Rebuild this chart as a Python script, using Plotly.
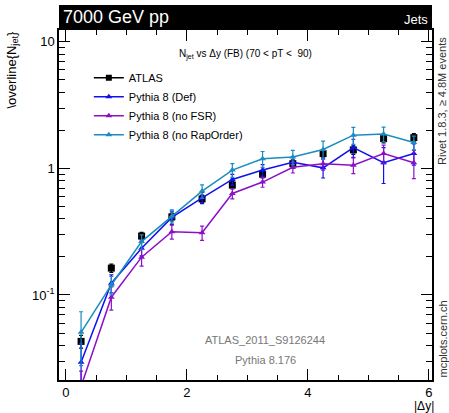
import plotly.graph_objects as go
import math

x = [0.25, 0.75, 1.25, 1.75, 2.25, 2.75, 3.25, 3.75, 4.25, 4.75, 5.25, 5.75]

atlas = [0.043, 0.163, 0.292, 0.414, 0.574, 0.738, 0.90, 1.09, 1.31, 1.40, 1.72, 1.75]
atlas_err = [0.005, 0.012, 0.02, 0.03, 0.04, 0.05, 0.06, 0.08, 0.10, 0.11, 0.13, 0.13]

py_def = [0.0294, 0.124, 0.234, 0.41, 0.586, 0.818, 0.97, 1.12, 1.01, 1.46, 1.11, 1.31]
py_def_err = [0.012, 0.02, 0.03, 0.05, 0.06, 0.08, 0.1, 0.12, 0.17, 0.24, 0.35, 0.25]

py_nofsr = [0.019, 0.096, 0.199, 0.316, 0.31, 0.634, 0.78, 1.02, 1.09, 1.06, 1.31, 1.11]
py_nofsr_err = [0.006, 0.02, 0.03, 0.04, 0.04, 0.06, 0.07, 0.1, 0.12, 0.15, 0.22, 0.28]

py_norap = [0.0507, 0.12, 0.264, 0.42, 0.662, 0.97, 1.19, 1.23, 1.41, 1.83, 1.87, 1.60]
py_norap_err = [0.023, 0.02, 0.035, 0.05, 0.08, 0.12, 0.17, 0.16, 0.23, 0.28, 0.25, 0.2]

names = ["ATLAS", "Pythia 8 (Def)", "Pythia 8 (no FSR)", "Pythia 8 (no RapOrder)"]
colors = ["black", "#1010f0", "#8c10c8", "#1a8cc0"]

ytickvals = [0.1, 1, 10]
yticktext = ["10<sup>-1</sup>", "1", "10"]
xtickvals = [0, 2, 4, 6]

fig = go.Figure()

mc = [(py_def, py_def_err), (py_nofsr, py_nofsr_err), (py_norap, py_norap_err)]

# ATLAS data points (no line)
fig.add_trace(go.Scatter(
    x=x, y=atlas, mode="markers", showlegend=False,
    marker=dict(symbol="square", size=7, color=colors[0]),
    error_y=dict(type="data", array=atlas_err, color=colors[0], thickness=1.2, width=2),
))

for i, (vals, errs) in enumerate(mc):
    c = colors[i + 1]
    fig.add_trace(go.Scatter(
        x=x, y=vals, mode="lines+markers", showlegend=False,
        line=dict(color=c, width=1.5),
        marker=dict(symbol="triangle-up", size=6, color=c),
        error_y=dict(type="data", array=errs, color=c, thickness=1.2, width=2),
    ))

# legend entries
for i, n in enumerate(names):
    fig.add_trace(go.Scatter(
        x=[None], y=[None], mode="lines+markers", name=n,
        line=dict(color=colors[i], width=1.5),
        marker=dict(symbol="square" if i == 0 else "triangle-up", size=6, color=colors[i]),
    ))

axis_common = dict(
    showgrid=False, zeroline=False, showline=True, linecolor="black", linewidth=1.5,
    mirror="ticks", ticks="inside", tickcolor="black", tickwidth=1,
    tickfont=dict(family="Liberation Sans, Arial", size=13, color="black"),
)

fig.update_xaxes(
    range=[-0.115, 6.05], tickvals=xtickvals, ticklen=11,
    minor=dict(ticks="inside", dtick=0.5, tick0=0, ticklen=5, tickcolor="black"),
    **axis_common,
)
fig.update_yaxes(
    type="log", range=[math.log10(0.0213), math.log10(12.4)],
    tickvals=ytickvals, ticktext=yticktext, ticklen=11,
    minor=dict(ticks="inside", dtick="D1", ticklen=6, tickcolor="black"),
    **axis_common,
)

fig.update_layout(
    width=449, height=413,
    margin=dict(l=59, r=17, t=30, b=33),
    paper_bgcolor="white", plot_bgcolor="white",
    font=dict(family="Liberation Sans, Arial", color="black"),
    legend=dict(
        x=0.08, y=0.905, xanchor="left", yanchor="top",
        bgcolor="rgba(0,0,0,0)", font=dict(size=11), tracegroupgap=0,
        itemwidth=30,
    ),
    shapes=[dict(type="rect", xref="paper", yref="paper",
                 x0=0, x1=1, y0=1, y1=1 + 25 / 350,
                 fillcolor="black", line=dict(width=0))],
    annotations=[
        dict(text="7000 GeV pp", xref="paper", yref="paper", x=0.005, y=1 + 12.5 / 350,
             xanchor="left", yanchor="middle", showarrow=False,
             font=dict(size=18, color="white")),
        dict(text="Jets", xref="paper", yref="paper", x=0.995, y=1 + 11 / 350,
             xanchor="right", yanchor="middle", showarrow=False,
             font=dict(size=13, color="white")),
        dict(text="N<sub>jet</sub> vs \u0394y (FB) (70 < pT <  90)", xref="paper", yref="paper",
             x=0.5, y=(380 - 55) / 350, xanchor="center", yanchor="middle", showarrow=False,
             font=dict(size=10)),
        dict(text="ATLAS_2011_S9126244", xref="paper", yref="paper",
             x=(265 - 59) / 373, y=(380 - 340) / 350, xanchor="center", yanchor="middle",
             showarrow=False, font=dict(size=11, color="#777777")),
        dict(text="Pythia 8.176", xref="paper", yref="paper",
             x=(265 - 59) / 373, y=(380 - 360) / 350, xanchor="center", yanchor="middle",
             showarrow=False, font=dict(size=11, color="#777777")),
        dict(text="Rivet 1.8.3, \u2265 4.8M events", xref="paper", yref="paper",
             x=(442 - 59) / 373, y=(380 - 35) / 350, xanchor="center", yanchor="top",
             textangle=-90, showarrow=False, font=dict(size=11, color="#333333")),
        dict(text="mcplots.cern.ch", xref="paper", yref="paper",
             x=(442 - 59) / 373, y=0, xanchor="center", yanchor="bottom",
             textangle=-90, showarrow=False, font=dict(size=11, color="#333333")),
        dict(text="\\overline{N<sub>jet</sub>}", xref="paper", yref="paper",
             x=(12 - 59) / 373, y=1, xanchor="center", yanchor="top",
             textangle=-90, showarrow=False, font=dict(size=13)),
        dict(text="|\u0394y|", xref="paper", yref="paper",
             x=1 + 4 / 373, y=-26 / 350, xanchor="right", yanchor="middle",
             showarrow=False, font=dict(size=12)),
    ],
)

fig.write_html("out.html")
